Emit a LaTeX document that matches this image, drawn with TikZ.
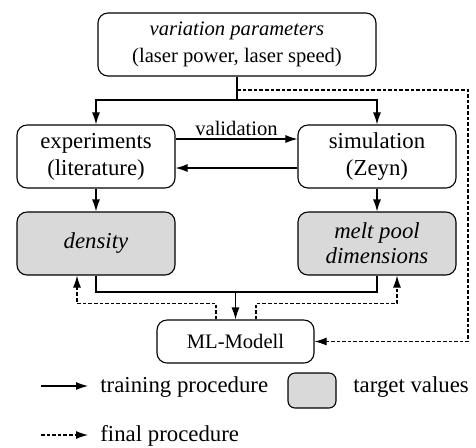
\documentclass[tikz,border=0pt]{standalone}
\usepackage{fontspec}
\setmainfont{Liberation Serif}
\usetikzlibrary{arrows.meta}

\tikzset{
  box/.style={draw, line width=0.55pt, rounded corners=5pt, align=center,
    inner sep=0pt, minimum width=79pt, minimum height=31.5pt,
    font=\fontsize{11.4}{13.5}\selectfont},
  target/.style={box, fill=gray!30},
  small/.style={font=\fontsize{10.3}{13.5}\selectfont},
  arr/.style={line width=0.55pt, -{Latex[length=6pt,width=4pt]}},
  dasharr/.style={arr, dash pattern=on 1.8pt off 1pt},
  legend/.style={anchor=west, inner sep=0pt, font=\fontsize{11.4}{13.5}\selectfont}
}

\begin{document}
\begin{tikzpicture}[x=0.5pt, y=-0.5pt]
    \useasboundingbox (0,0) rectangle (476,447);

    \node[box, small, minimum width=139pt] (param) at (237,44.5)
      {\textit{variation parameters}\\(laser power, laser speed)};

    \node[box] (exp) at (96,156.5) {experiments\\(literature)};
    \node[box] (sim) at (377,156.5) {simulation\\(Zeyn)};

    \node[target] (dens) at (96,243.5) {\textit{density}};
    \node[target, font=\fontsize{11.4}{12.5}\selectfont] (melt) at (377,243.5)
      {\textit{melt pool}\\\textit{dimensions}};

    \node[box, small, minimum width=78.5pt, minimum height=21.5pt] (ml) at (235.5,341.5) {ML-Modell};

    \coordinate (fork) at (237,100);
    \draw[line width=0.55pt] (param) -- (fork);
    \draw[arr] (fork) -| (exp);
    \draw[arr] (fork) -| (sim);

    \coordinate (tap) at (237,90);
    \coordinate (turn) at (468,90);
    \draw[dasharr] (tap) -- (turn) |- (ml.east);

    \draw[arr] (exp.east |- 0,139) -- node[above=1.5pt, small, inner sep=0pt] {validation} (sim.west |- 0,139);
    \draw[arr] (sim.west |- 0,168) -- (exp.east |- 0,168);

    \draw[arr] (exp) -- (dens);
    \draw[arr] (sim) -- (melt);

    \coordinate (merge) at (ml.north |- 0,292);
    \draw[line width=0.55pt] (dens.south) |- (merge) -| (melt.south);
    \draw[arr] (merge) -- (ml.north);

    \draw[dasharr] ([xshift=-9.75pt]ml.north) -- ++(0,8pt) -| ([xshift=-9.5pt]dens.south);
    \draw[dasharr] ([xshift=10.25pt]ml.north) -- ++(0,8pt) -| ([xshift=10pt]melt.south);

    % legend
    \coordinate (trainS) at (41,386);
    \coordinate (trainE) at (88,386);
    \draw[arr] (trainS) -- (trainE);
    \node[legend] (trainL) at (100,387) {training procedure};

    \node[target, minimum width=24pt, minimum height=17.5pt, rounded corners=3.5pt] (key) at (312,390.5) {};
    \node[legend] (keyL) at (353,387) {target values};

    \coordinate (finalS) at (41,435);
    \coordinate (finalE) at (88,435);
    \draw[dasharr] (finalS) -- (finalE);
    \node[legend] (finalL) at (100,436) {final procedure};
  \end{tikzpicture}
\end{document}
